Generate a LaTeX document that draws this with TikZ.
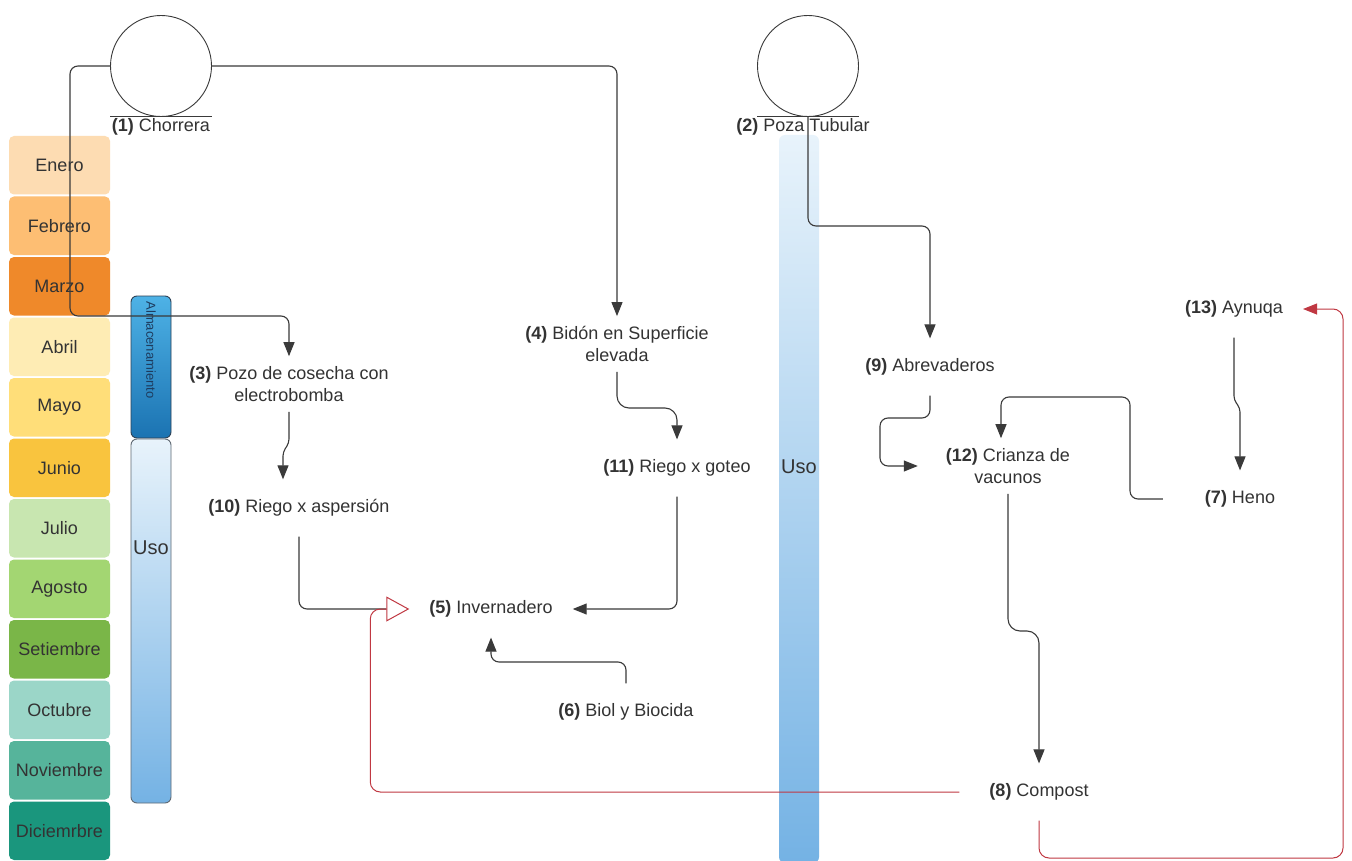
\documentclass[tikz,border=0pt]{standalone}
\usepackage{fontspec}
\setmainfont{Liberation Sans}
\usetikzlibrary{arrows.meta,positioning}

\definecolor{inkGray}{HTML}{333333}
\definecolor{lineGray}{HTML}{3A3A3A}
\definecolor{compostRed}{RGB}{192,56,66}
\definecolor{mEne}{HTML}{FDDCB2}
\definecolor{mFeb}{HTML}{FDBE73}
\definecolor{mMar}{HTML}{EF892A}
\definecolor{mAbr}{HTML}{FEECB4}
\definecolor{mMay}{HTML}{FFDE79}
\definecolor{mJun}{HTML}{F9C43E}
\definecolor{mJul}{HTML}{C8E6B0}
\definecolor{mAgo}{HTML}{A3D672}
\definecolor{mSet}{HTML}{7AB648}
\definecolor{mOct}{HTML}{9BD6C8}
\definecolor{mNov}{HTML}{56B49B}
\definecolor{mDic}{HTML}{1A967D}
\definecolor{storeTop}{RGB}{78,178,230}
\definecolor{storeBottom}{RGB}{27,115,178}
\definecolor{useTop}{RGB}{232,243,251}
\definecolor{useBottom}{RGB}{116,178,228}

\begin{document}
\begin{tikzpicture}[x=1pt, y=-1pt,
    every node/.style = {text=inkGray, font=\fontsize{18}{22}\selectfont},
    monthBox/.style = {rounded corners=5pt, minimum width=101pt, minimum height=58.5pt, inner sep=0pt},
    waterSource/.style = {circle, draw=lineGray, line width=0.9pt, minimum size=101pt, inner sep=0pt},
    itemLabel/.style = {align=center, inner sep=20pt},
    twoLines/.style = {inner sep=10pt},
    storeBar/.style = {rounded corners=6pt, minimum width=40pt, draw={rgb,255:red,45;green,65;blue,85}, line width=0.9pt},
    useBar/.style = {rounded corners=6pt, minimum width=40pt, top color=useTop, bottom color=useBottom},
    flowArrow/.style = {draw=lineGray, line width=1.1pt, rounded corners=8pt, -{Triangle[length=14pt, width=11pt]}},
    compostLink/.style = {draw=compostRed, line width=1pt, rounded corners=10pt},
    ]
    \fill[white] (0,0) rectangle (1352,861);
    \useasboundingbox (0,0) rectangle (1352,861);

    % meses
    \foreach \mname/\mcol [count=\i from 0] in {Enero/mEne, Febrero/mFeb, Marzo/mMar, Abril/mAbr, Mayo/mMay, Junio/mJun,
        Julio/mJul, Agosto/mAgo, Setiembre/mSet, Octubre/mOct, Noviembre/mNov, Diciemrbre/mDic}
      \node[monthBox, fill=\mcol] (month\i) at (59.5, {165.25+60.5*\i}) {\mname};

    % barras
    \node[storeBar, minimum height=142pt, top color=storeTop, bottom color=storeBottom] (almac) at (151,367) {};
    \node[rotate=-90, font=\fontsize{13}{15}\selectfont, text={rgb,255:red,30;green,60;blue,95}] (almacText) at (151,350) {Almacenamiento};
    \node[useBar, minimum height=364pt, draw={rgb,255:red,95;green,105;blue,115}, line width=0.9pt] (usoLeft) at (151,621) {};
    \node[font=\fontsize{20}{24}\selectfont] (usoLeftText) at (151,548) {Uso};
    \node[useBar, minimum height=728pt] (usoRight) at (799,499) {};
    \node[font=\fontsize{20}{24}\selectfont] (usoRightText) at (799,467) {Uso};

    % fuentes de agua
    \node[waterSource] (chorrera) at (161,66) {};
    \draw[lineGray, line width=0.9pt] (chorrera.west |- chorrera.south) -- (chorrera.east |- chorrera.south);
    \node[below=0pt of chorrera, inner sep=1pt] (chorreraLabel) {\textbf{(1)} Chorrera};
    \node[waterSource] (pozaTub) at (808,66) {};
    \draw[lineGray, line width=0.9pt] (pozaTub.west |- pozaTub.south) -- (pozaTub.east |- pozaTub.south);
    \node[below=0pt of pozaTub, xshift=-5pt, inner sep=1pt] (pozaLabel) {\textbf{(2)} Poza Tubular};

    % componentes
    \node[itemLabel, twoLines] (pozo) at (289,384) {\textbf{(3)} Pozo de cosecha con\\electrobomba};
    \node[itemLabel, twoLines] (bidon) at (617,344) {\textbf{(4)} Bidón en Superficie\\elevada};
    \node[itemLabel] (inver) at (491,609) {\textbf{(5)} Invernadero};
    \node[itemLabel] (biol) at (626,712) {\textbf{(6)} Biol y Biocida};
    \node[itemLabel] (heno) at (1240,499) {\textbf{(7)} Heno};
    \node[itemLabel] (compost) at (1039,792) {\textbf{(8)} Compost};
    \node[itemLabel] (abrev) at (930,367) {\textbf{(9)} Abrevaderos};
    \node[itemLabel] (riego10) at (299,508) {\textbf{(10)} Riego x aspersión};
    \node[itemLabel] (riego11) at (677,468) {\textbf{(11)} Riego x goteo};
    \node[itemLabel, inner xsep=28pt, inner ysep=10pt] (crianza) at (1008,466) {\textbf{(12)} Crianza de\\vacunos};
    \node[itemLabel] (aynuqa) at (1234,309) {\textbf{(13)} Aynuqa};

    % flujos
    \draw[flowArrow] (chorrera.west) -- (70,66) |- (pozo.north |- 0,316) -- (pozo.north);
    \draw[flowArrow] (chorrera.east) -| (bidon.north);
    \draw[flowArrow] (pozaTub.south) |- (abrev.north |- 0,226) -- (abrev.north);
    \draw[flowArrow, rounded corners=4pt] (pozo.south) -- (289,443) -- (283,452) -- ([xshift=-16pt]riego10.north);
    \draw[flowArrow, rounded corners=12pt] (bidon.south) |- (riego11.north |- 0,408) -- (riego11.north);
    \draw[lineGray, line width=1.1pt, rounded corners=8pt] (riego10.south) |- ([xshift=-23pt]inver.west);
    \draw[flowArrow] (riego11.south) |- (inver.east);
    \draw[flowArrow] (biol.north) |- (inver.south |- 0,662) -- (inver.south);
    \draw[flowArrow] (abrev.south) |- (880,418) |- (crianza.west);
    \draw[flowArrow] ([xshift=-22pt]heno.west) -| (1130,397) -| ([xshift=-7pt]crianza.north);
    \draw[flowArrow, rounded corners=4pt] (aynuqa.south) -- (1234,400) -- (1240,408) -- (heno.north);
    \draw[flowArrow, rounded corners=12pt] (crianza.south) |- (compost.north |- 0,631) -- (compost.north);
    \draw[compostLink, -{Triangle[open, length=23pt, width=25pt]}] ([xshift=-10pt]compost.west) -| ([xshift=-39pt]inver.west) -- (inver.west);
    \draw[compostLink, -{Triangle[length=14pt, width=11pt]}] (compost.south) |- (1343,858) |- (aynuqa.east);
\end{tikzpicture}
\end{document}
